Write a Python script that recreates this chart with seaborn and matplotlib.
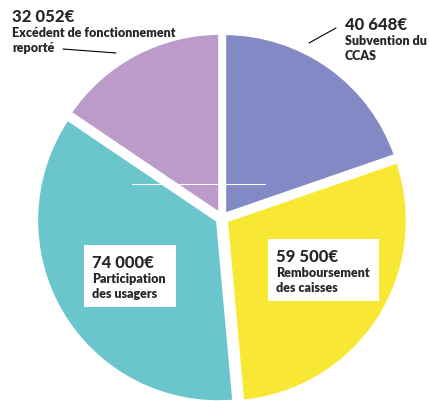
import matplotlib
matplotlib.use("Agg")
import matplotlib.pyplot as plt
import seaborn as sns
from matplotlib.patches import Rectangle

# ---------------------------------------------------------------------------
# Data
# ---------------------------------------------------------------------------
categories = [["Subvention du", "CCAS"], ["Remboursement", "des caisses"],
              ["Participation", "des usagers"], ["Excédent de fonctionnement", "reporté"]]
amounts = [40648, 59500, 74000, 32052]
amount_labels = ["40 648€", "59 500€", "74 000€", "32 052€"]
colors = ["#8289C4", "#F8E834", "#6AC5CD", "#BC9AC9"]

W, H = 429, 401
CX, CY, R = 222, 218, 182  # pie centre / radius in pixels


def fx(px):
    return px / W


def fy(py):
    return 1 - py / H


def label(x, y, amt, lines):
    """Amount in large bold, then category lines below (pixel baselines)."""
    fig.text(fx(x), fy(y), amt, fontsize=12, fontweight="black")
    for i, line in enumerate(lines):
        fig.text(fx(x), fy(y + 15 + 15 * i), line, fontsize=9, fontweight="heavy")


sns.set_theme(style="white")
plt.rcParams["font.family"] = ["Lato", "DejaVu Sans"]

fig = plt.figure(figsize=(W / 100, H / 100), dpi=100)
ax = fig.add_axes([0, 0, 1, 1])
ax.pie(amounts, colors=colors, startangle=90, counterclock=False,
       explode=[0.02, 0.025, 0.025, 0.02],
       wedgeprops=dict(edgecolor="white", linewidth=3))
ax.set_xlim(-CX / R, (W - CX) / R)
ax.set_ylim(-(H - CY) / R, CY / R)
ax.set_aspect("auto")
ax.axis("off")

# thin white artefact line across the centre
ax.plot([(132 - CX) / R, (265 - CX) / R], [(CY - 184) / R] * 2,
        color="white", lw=0.8)

# outside labels with leader lines
label(12, 22, amount_labels[3], categories[3])
fig.add_artist(plt.Line2D([fx(63), fx(116)], [fy(49), fy(53)], color="black", lw=0.8))

label(345, 30, amount_labels[0], categories[0])
fig.add_artist(plt.Line2D([fx(309), fx(336)], [fy(43), fy(28)], color="black", lw=0.8))

# boxed labels
for (x0, y0, x1, y1), amt, cat in [((84, 245, 176, 307), amount_labels[2], categories[2]),
                                   ((268, 239, 379, 301), amount_labels[1], categories[1])]:
    fig.add_artist(Rectangle((fx(x0), fy(y1)), fx(x1) - fx(x0), fy(y0) - fy(y1),
                             transform=fig.transFigure, facecolor="white",
                             edgecolor="none"))
    label(x0 + 8, y0 + 23, amt, cat)

fig.savefig("out.png", dpi=100)
